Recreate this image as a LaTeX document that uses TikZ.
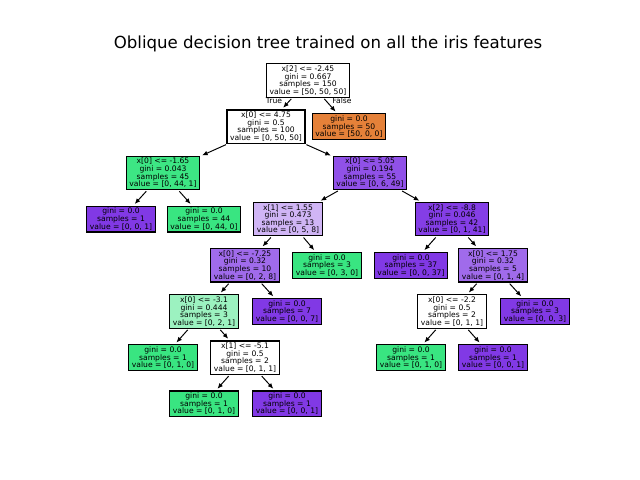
\documentclass[tikz,border=0pt]{standalone}
\usepackage{fontspec}
\setmainfont{DejaVu Sans}
\usetikzlibrary{arrows.meta}
\definecolor{cgrn}{HTML}{39E581}
\definecolor{cprp}{HTML}{8139E5}
\definecolor{corg}{HTML}{E58139}
\newcommand{\boxfont}{\fontsize{5.5}{5.5}\selectfont\lineskiplimit=-4pt\relax}

\begin{document}
\begin{tikzpicture}[x=0.01in,y=0.01in,
  box/.style={draw=black,line width=0.9pt,align=center,inner xsep=2.2pt,inner ysep=1.4pt,
    font=\boxfont},
  link/.style={-{Latex[length=4pt,width=3.4pt]},line width=0.7pt,shorten <=1pt,shorten >=1.5pt},
  lab/.style={font=\fontsize{5.5}{6}\selectfont,inner sep=0pt}]
\useasboundingbox (0,0) rectangle (640,480);
\node[font=\fontsize{12}{14}\selectfont,anchor=base] (ttl) at (328,431)
  {Oblique decision tree trained on all the iris features};
% splits and leaves, level by level
\node[box] (s0) at (308,399.5) {x[2] <= -2.45\\gini = 0.667\\samples = 150\\value = [50, 50, 50]};
\node[box] (s1) at (266,353.3) {x[0] <= 4.75\\gini = 0.5\\samples = 100\\value = [0, 50, 50]};
\node[box,fill=corg] (l1) at (349,353.3) {gini = 0.0\\samples = 50\\value = [50, 0, 0]};
\node[box,fill=cgrn!98!white] (s2) at (163,307.1) {x[0] <= -1.65\\gini = 0.043\\samples = 45\\value = [0, 44, 1]};
\node[box,fill=cprp!88!white] (s3) at (370,307.1) {x[0] <= 5.05\\gini = 0.194\\samples = 55\\value = [0, 6, 49]};
\node[box,fill=cprp] (l2) at (121,260.9) {gini = 0.0\\samples = 1\\value = [0, 0, 1]};
\node[box,fill=cgrn] (l3) at (204,260.9) {gini = 0.0\\samples = 44\\value = [0, 44, 0]};
\node[box,fill=cprp!37.5!white] (s4) at (288,260.9) {x[1] <= 1.55\\gini = 0.473\\samples = 13\\value = [0, 5, 8]};
\node[box,fill=cprp!97.6!white] (s5) at (452,260.9) {x[2] <= -8.8\\gini = 0.046\\samples = 42\\value = [0, 1, 41]};
\node[box,fill=cprp!75!white] (s6) at (245,214.7) {x[0] <= -7.25\\gini = 0.32\\samples = 10\\value = [0, 2, 8]};
\node[box,fill=cgrn] (l4) at (327,214.7) {gini = 0.0\\samples = 3\\value = [0, 3, 0]};
\node[box,fill=cprp] (l5) at (411,214.7) {gini = 0.0\\samples = 37\\value = [0, 0, 37]};
\node[box,fill=cprp!75!white] (s7) at (493,214.7) {x[0] <= 1.75\\gini = 0.32\\samples = 5\\value = [0, 1, 4]};
\node[box,fill=cgrn!50!white] (s8) at (204,168.5) {x[0] <= -3.1\\gini = 0.444\\samples = 3\\value = [0, 2, 1]};
\node[box,fill=cprp] (l6) at (287,168.5) {gini = 0.0\\samples = 7\\value = [0, 0, 7]};
\node[box] (s9) at (452,168.5) {x[0] <= -2.2\\gini = 0.5\\samples = 2\\value = [0, 1, 1]};
\node[box,fill=cprp] (l7) at (535,168.5) {gini = 0.0\\samples = 3\\value = [0, 0, 3]};
\node[box,fill=cgrn] (l8) at (163,122.3) {gini = 0.0\\samples = 1\\value = [0, 1, 0]};
\node[box] (s10) at (245,122.3) {x[1] <= -5.1\\gini = 0.5\\samples = 2\\value = [0, 1, 1]};
\node[box,fill=cgrn] (l9) at (411,122.3) {gini = 0.0\\samples = 1\\value = [0, 1, 0]};
\node[box,fill=cprp] (l10) at (493,122.3) {gini = 0.0\\samples = 1\\value = [0, 0, 1]};
\node[box,fill=cgrn] (l11) at (204,76.1) {gini = 0.0\\samples = 1\\value = [0, 1, 0]};
\node[box,fill=cprp] (l12) at (287,76.1) {gini = 0.0\\samples = 1\\value = [0, 0, 1]};
% parent -> child arrows
\foreach \p/\c in {s0/s1,s0/l1,s1/s2,s1/s3,s2/l2,s2/l3,s3/s4,s3/s5,s4/s6,s4/l4,s5/l5,s5/s7,
  s6/s8,s6/l6,s7/s9,s7/l7,s8/l8,s8/s10,s9/l9,s9/l10,s10/l11,s10/l12}
  \draw[link] (\p) -- (\c);
% branch labels at the root
\node[lab] (tt) at (274,379) {True};
\node[lab] (tf) at (342,379) {False};
\end{tikzpicture}
\end{document}
